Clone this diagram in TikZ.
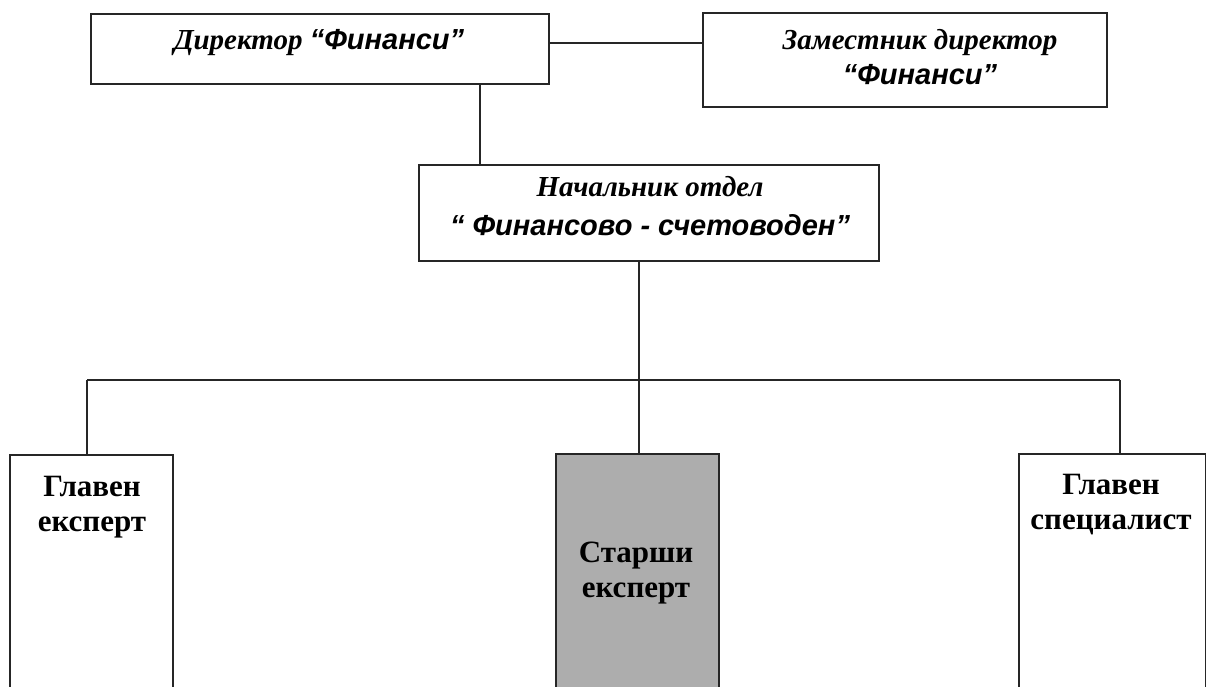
\documentclass[tikz,border=0pt]{standalone}
\usepackage{fontspec}
\setmainfont{Liberation Serif}
\newfontfamily\arialf{Liberation Sans}
\begin{document}
\begin{tikzpicture}[x=1pt,y=-1pt,
  box/.style={draw=black!85,line width=1.8pt,inner sep=0pt,anchor=north west},
  conn/.style={draw=black!85,line width=1.8pt},
  ttl/.style={inner sep=0pt,align=center,font=\fontsize{29}{35}\selectfont\bfseries\itshape},
  ttlb/.style={inner sep=0pt,align=center,font=\fontsize{29}{39}\selectfont\bfseries\itshape},
  low/.style={inner sep=0pt,align=center,anchor=north,font=\fontsize{31}{35}\selectfont\bfseries}]
\useasboundingbox (0,0) rectangle (1206,686);
\clip (0,0) rectangle (1206,686);
% boxes
\node[box,minimum width=458pt,minimum height=70pt] (dir) at (90,13) {};
\node[box,minimum width=404pt,minimum height=94pt] (dep) at (702,12) {};
\node[box,minimum width=460pt,minimum height=96pt] (nach) at (418,164) {};
\node[box,minimum width=163pt,minimum height=260pt] (left) at (9,454) {};
\node[box,fill=black!32,minimum width=163pt,minimum height=260pt] (mid) at (555,453) {};
\node[box,minimum width=187pt,minimum height=260pt] (right) at (1018,453) {};
% texts
\node[ttl] (dirt) at (319,43) {Директор {\arialf“Финанси”}};
\node[ttl] (dept) at (920,57) {Заместник директор\\{\arialf“Финанси”}};
\node[ttlb] (nacht) at (650,206) {Начальник отдел\\{\arialf“ Финансово - счетоводен”}};
\node[low] (leftt) at (92,476) {Главен\\експерт};
\node[low] (midt) at (636,542) {Старши\\експерт};
\node[low] (rightt) at (1111,474) {Главен\\специалист};
% connector helpers
\coordinate (h1) at (0,43);
\coordinate (v1) at (480,0);
\coordinate (v2) at (639,0);
\coordinate (hb) at (0,380);
\coordinate (vl) at (87,0);
\coordinate (vr) at (1120,0);
% connectors
\draw[conn] (dir.east |- h1) -- (dep.west |- h1);
\draw[conn] (dir.south -| v1) -- (nach.north -| v1);
\draw[conn] (nach.south -| v2) -- (mid.north -| v2);
\draw[conn] (vl |- hb) -- (vr |- hb);
\draw[conn] (vl |- hb) -- (left.north -| vl);
\draw[conn] (vr |- hb) -- (right.north -| vr);
\end{tikzpicture}
\end{document}
